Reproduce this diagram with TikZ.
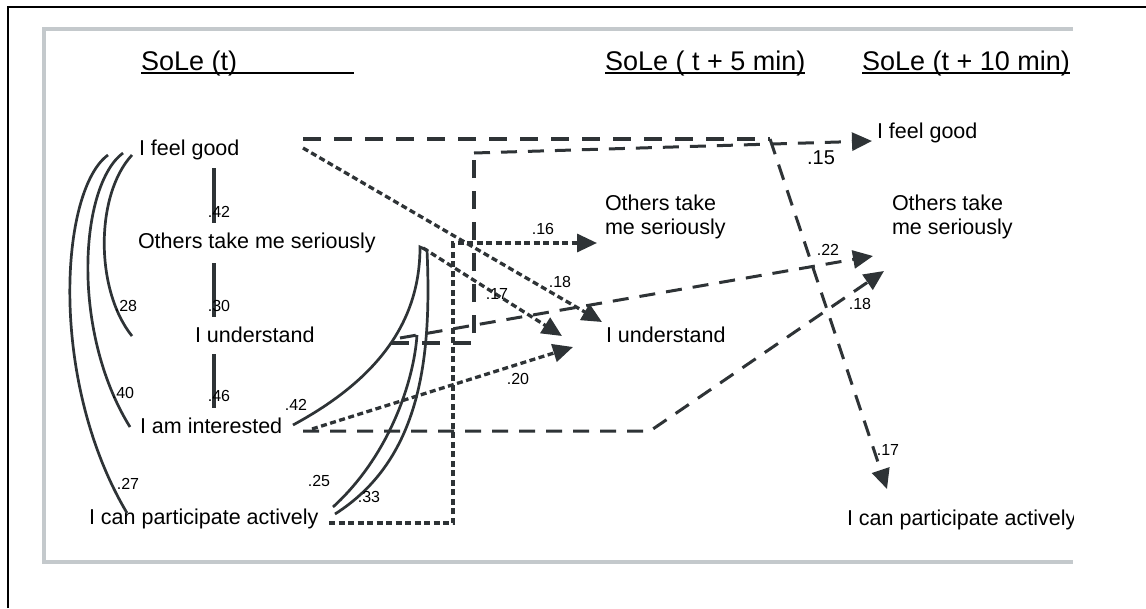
\documentclass[tikz,border=0pt]{standalone}
\usepackage{fontspec}
\setmainfont{Liberation Sans}
\usetikzlibrary{arrows.meta}
\definecolor{ink}{RGB}{46,51,54}
\definecolor{framegray}{RGB}{196,201,204}
\begin{document}
\begin{tikzpicture}[x=1pt,y=-1pt,
  every node/.style={inner sep=0pt, outer sep=0pt, text=black},
  txt/.style={font=\fontsize{21.5}{24}\selectfont, anchor=base west},
  ttl/.style={font=\fontsize{27}{30}\selectfont, anchor=base west},
  lbl/.style={font=\fontsize{16}{18}\selectfont},
  biglbl/.style={font=\fontsize{20}{22}\selectfont},
  corr/.style={draw=ink, line width=2.7pt},
  bar/.style={draw=ink, line width=3.6pt},
  bigdash/.style={draw=ink, line width=3.8pt, dash pattern=on 18pt off 13pt},
  meddash/.style={draw=ink, line width=3pt, dash pattern=on 16pt off 11pt},
  fdot/.style={draw=ink, line width=3.3pt, dash pattern=on 6pt off 3.5pt},
  arrowend/.style={-{Triangle[length=20pt,width=18pt]}},
  uline/.style={draw=black, line width=2pt}
]
\useasboundingbox (0,0) rectangle (1146,608);
\fill[white] (0,0) rectangle (1146,608);
% outer frame (left and top)
\draw[black, line width=2pt] (8,608) -- (8,7) -- (1146,7);
% gray frame
\draw[framegray, line width=4.5pt] (1073,29) -- (44,29) -- (44,562) -- (1073,562);

% titles
\node[ttl] (h1) at (141,70) {SoLe (t)};
\node[ttl] (h2) at (605,70) {SoLe ( t + 5 min)};
\node[ttl] (h3) at (862,70) {SoLe (t + 10 min)};
\coordinate (h1end) at (354,72.5);
\draw[uline] ([yshift=-2.5pt]h1.base west) -- (h1end);
\draw[uline] ([yshift=-2.5pt]h2.base west) -- ([yshift=-2.5pt]h2.base east);
\draw[uline] ([yshift=-2.5pt]h3.base west) -- ([yshift=-2.5pt]h3.base east);

% time t
\node[txt] (a1) at (139,155) {I feel good};
\node[txt] (a2) at (138,248) {Others take me seriously};
\node[txt] (a3) at (195,342) {I understand};
\node[txt] (a4) at (140,433) {I am interested};
\node[txt] (a5) at (89,524) {I can participate actively};
% time t + 5
\node[txt, align=left] (b2) at (605,234) {Others take\\me seriously};
\node[txt] (b3) at (606,342) {I understand};
% time t + 10
\node[txt] (c1) at (877,138) {I feel good};
\node[txt, align=left] (c2) at (892,234) {Others take\\me seriously};
\begin{scope}
  \clip (0,0) rectangle (1073,608);
  \node[txt] (c5) at (847,525) {I can participate actively};
\end{scope}

% vertical correlation bars
\coordinate (v1a) at (214,168); \coordinate (v1b) at (214,223);
\coordinate (v2a) at (214,263); \coordinate (v2b) at (214,317);
\coordinate (v3a) at (214,354); \coordinate (v3b) at (214,408);
\draw[bar] (v1a) -- (v1b);
\draw[bar] (v2a) -- (v2b);
\draw[bar] (v3a) -- (v3b);
\node[lbl] (l42a) at (219,212) {.42};
\node[lbl] (l30) at (219,306) {.30};
\node[lbl] (l46) at (219,396) {.46};

% left correlation arcs
\coordinate (k28s) at (132,155); \coordinate (k28e) at (132,336);
\coordinate (k40s) at (123,153); \coordinate (k40e) at (130,427);
\coordinate (k27s) at (108,155); \coordinate (k27e) at (127,513);
\draw[corr] (k28s) .. controls (95,195) and (95,290) .. (k28e);
\draw[corr] (k40s) .. controls (80,185) and (70,330) .. (k40e);
\draw[corr] (k27s) .. controls (60,190) and (48,380) .. (k27e);
\node[lbl] (l28) at (126,306) {.28};
\node[lbl] (l40) at (123,393) {.40};
\node[lbl] (l27) at (128,484) {.27};

% right correlation arcs
\coordinate (k42s) at (293,425); \coordinate (peak) at (420,247);
\coordinate (k33s) at (335,514); \coordinate (k33e) at (427,250);
\coordinate (k25s) at (333,507); \coordinate (k25e) at (417,335);
\draw[corr] (k42s) .. controls (380,378) and (420,320) .. (peak) -- (k33e);
\draw[corr] (k33s) .. controls (420,460) and (432,360) .. (k33e);
\draw[corr] (k25s) .. controls (390,455) and (414,380) .. (k25e);
\node[lbl] (l42b) at (296,405) {.42};
\node[lbl] (l25) at (319,481) {.25};
\node[lbl] (l33) at (369,497) {.33};

% dotted paths (to t + 5)
\coordinate (p16s) at (329,523); \coordinate (p16a) at (453,523);
\coordinate (p16b) at (453,243); \coordinate (p16t) at (597,243);
\draw[fdot, arrowend] (p16s) -- (p16a) -- (p16b) -- (p16t);
\node[lbl] (l16) at (543,229) {.16};

\coordinate (p18s) at (303,148); \coordinate (p18t) at (602,322);
\draw[fdot, arrowend] (p18s) -- (p18t);
\node[lbl] (l18a) at (560,282) {.18};

\coordinate (p17s) at (423,248); \coordinate (p17t) at (562,336);
\draw[fdot, arrowend] (p17s) -- (p17t);
\node[lbl] (l17a) at (497,294) {.17};

\coordinate (p20s) at (312,429); \coordinate (p20t) at (573,347);
\draw[fdot, arrowend] (p20s) -- (p20t);
\node[lbl] (l20) at (518,379) {.20};

% dashed paths (to t + 10)
\coordinate (q15s) at (391,343); \coordinate (q15a) at (474,343);
\coordinate (q15b) at (474,153); \coordinate (q15t) at (872,141);
\draw[bigdash] (q15s) -- (q15a) -- (q15b);
\draw[meddash, arrowend] (q15b) -- (q15t);
\node[biglbl] (l15) at (821,158) {.15};

\coordinate (q17s) at (303,139); \coordinate (q17a) at (770,139);
\coordinate (q17t) at (887,489);
\draw[bigdash] (q17s) -- (q17a);
\draw[meddash, arrowend] (q17a) -- (q17t);
\node[lbl] (l17b) at (888,450) {.17};

\coordinate (q22s) at (400,338); \coordinate (q22t) at (873,256);
\draw[meddash, arrowend] (q22s) -- (q22t);
\node[lbl] (l22) at (828,250) {.22};

\coordinate (q18s) at (303,431); \coordinate (q18a) at (650,431);
\coordinate (q18t) at (884,271);
\draw[meddash, arrowend] (q18s) -- (q18a) -- (q18t);
\node[lbl] (l18b) at (860,304) {.18};
\end{tikzpicture}
\end{document}
